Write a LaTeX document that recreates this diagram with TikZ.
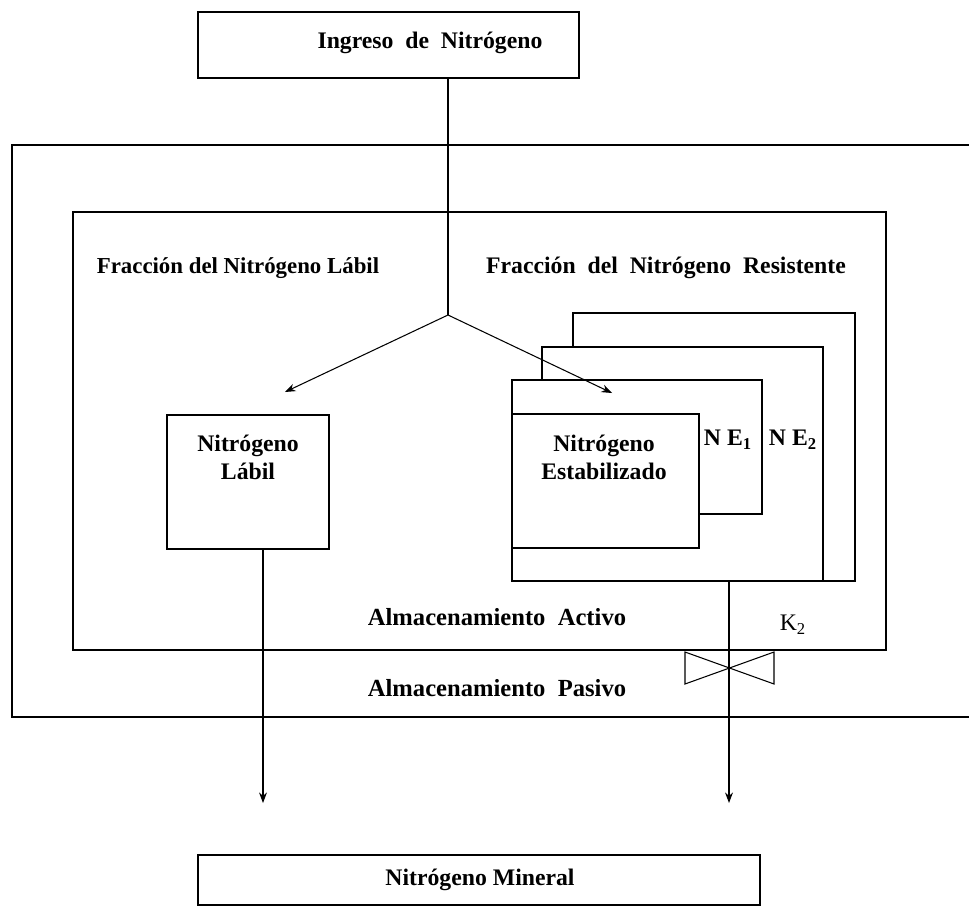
\documentclass[tikz,border=0pt]{standalone}
\usepackage{fontspec}
\setmainfont{Liberation Serif}
\usetikzlibrary{arrows.meta}

\begin{document}
\begin{tikzpicture}[
    x=0.02cm,
    y=-0.02cm,
    caja/.style={%
      draw,
      rectangle,
      line width=1.4pt,
      inner sep=0pt,
    },
    marco/.style={line width=1.4pt},
    linea/.style={line width=0.6pt},
    flecha/.style={linea, -{Stealth[length=6pt,width=4.5pt]}},
    texto/.style={font=\fontsize{13.5}{16}\selectfont\bfseries, align=center},
  ]

    \useasboundingbox (0,0) rectangle (969,919);

    % cajas de entrada y salida
    \node [caja, minimum width=7.62cm, minimum height=1.32cm] (ingreso) at (388.5,45) {};
    \node [texto] (tIngreso) at (430,43) {Ingreso \ de \ Nitrógeno};
    \node [caja, minimum width=11.24cm, minimum height=1cm] (mineral) at (479,880) {};
    \node [texto] (tMineral) at (480,880) {Nitrógeno Mineral};

    % almacenamiento pasivo (abierto a la derecha) y activo
    \draw [marco] (969,145) -| (12,717) -- (969,717);
    \node [caja, minimum width=16.26cm, minimum height=8.76cm] (activo) at (479.5,431) {};
    \node [texto, font=\fontsize{13}{16}\selectfont\bfseries] (tLabilFr) at (238,268) {Fracción del Nitrógeno Lábil};
    \node [texto] (tResisFr) at (666,268) {Fracción \ del \ Nitrógeno \ Resistente};
    \node [texto, font=\fontsize{14}{16}\selectfont\bfseries] (tActivo) at (497,617) {Almacenamiento \ Activo};
    \node [texto, font=\fontsize{14}{16}\selectfont\bfseries] (tPasivo) at (497,688) {Almacenamiento \ Pasivo};

    % nitrogeno labil
    \node [caja, minimum width=3.24cm, minimum height=2.68cm] (labil) at (248,482) {};
    \node [texto] (tLabil) at (248,457) {Nitrógeno\\Lábil};

    % pilas de nitrogeno estabilizado
    \draw [marco] (573,347) |- (855,313) |- (512,581) |- (762,380) |- (699,514);
    \draw [marco] (542,380) |- (823,347) -- (823,581);
    \node [caja, minimum width=3.74cm, minimum height=2.68cm] (estab) at (605.5,481) {};
    \node [texto] (tEstab) at (604,457) {Nitrógeno\\Estabilizado};
    \node [texto] (ne1) at (728,440) {N E\textsubscript{1}};
    \node [texto] (ne2) at (793,440) {N E\textsubscript{2}};

    % valvula
    \draw [linea] (685,652) -- (685,684) -- (774,652) -- (774,684) -- cycle;
    \node [font=\fontsize{13.5}{16}\selectfont] (k2) at (793,625) {K\textsubscript{2}};

    % flujos
    \coordinate (split) at (448,315);
    \coordinate (puntaA) at (285,392);
    \coordinate (puntaB) at (612,393);
    \coordinate (salidaB) at (729,581);
    \coordinate (finA) at (263,803);
    \coordinate (finB) at (729,803);

    \draw [linea] (ingreso.south -| split) -- (split);
    \draw [flecha] (split) -- (puntaA);
    \draw [flecha] (split) -- (puntaB);
    \draw [flecha] (labil.south -| finA) -- (finA);
    \draw [flecha] (salidaB) -- (finB);
\end{tikzpicture}
\end{document}
